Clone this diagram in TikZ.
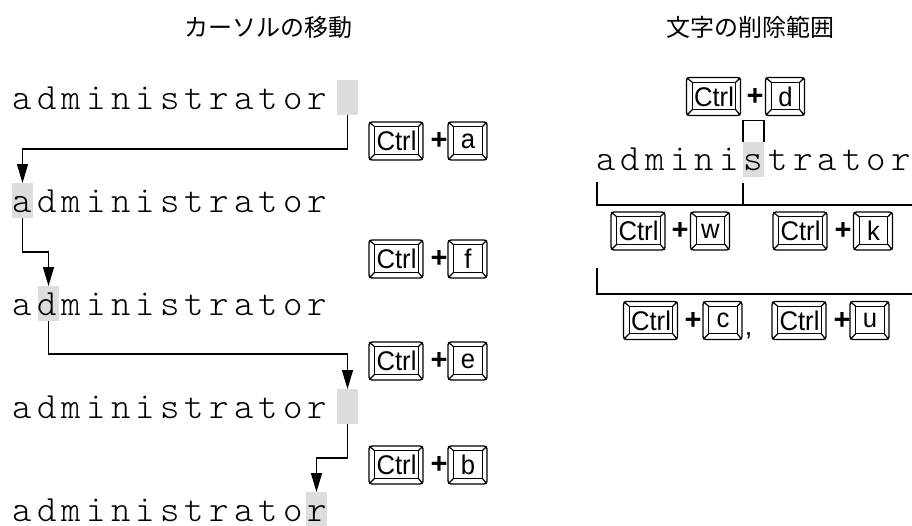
\documentclass[tikz,border=0pt]{standalone}
\usepackage{fontspec}
\newfontfamily\jpfont{Noto Sans CJK JP}
\newfontfamily\keyfont{Liberation Sans}
\newfontfamily\monofont{Latin Modern Mono Light}
\usetikzlibrary{arrows.meta}
\definecolor{hlgray}{HTML}{DDDDDD}
\newcommand\keycap[5]{%
  \node[#4] (#1) at (#2,#3) {};
  \draw[keyline] ([xshift=6.5pt,yshift=-5.5pt]#1.north west) rectangle ([xshift=-5.5pt,yshift=6.5pt]#1.south east);
  \draw[keyline] ([xshift=1pt,yshift=-1pt]#1.north west) -- ([xshift=6.5pt,yshift=-5.5pt]#1.north west);
  \draw[keyline] ([xshift=-1pt,yshift=-1pt]#1.north east) -- ([xshift=-5.5pt,yshift=-5.5pt]#1.north east);
  \draw[keyline] ([xshift=1pt,yshift=1pt]#1.south west) -- ([xshift=6.5pt,yshift=6.5pt]#1.south west);
  \draw[keyline] ([xshift=-1pt,yshift=1pt]#1.south east) -- ([xshift=-5.5pt,yshift=6.5pt]#1.south east);
  \node[keylabel] (#1l) at ([xshift=0.5pt]#1.center) {\scalebox{0.95}[1]{#5}};
}
\begin{document}
\begin{tikzpicture}[x=1pt,y=-1pt,
  cell/.style={fill=hlgray, draw=none, minimum width=21pt, minimum height=35pt, inner sep=0pt, outer sep=0pt},
  ch/.style={anchor=base, inner sep=0pt, font=\monofont\fontsize{37}{37}\selectfont},
  keyline/.style={line width=1.2pt},
  keyouter/.style={draw, rounded corners=3pt, minimum height=38pt, inner sep=0pt, line width=1.4pt},
  ctrlkey/.style={keyouter, minimum width=54pt},
  letkey/.style={keyouter, minimum width=39pt},
  keylabel/.style={font=\keyfont\fontsize{27}{27}\selectfont, inner sep=0pt},
  plus/.style={font=\keyfont\bfseries\fontsize{29}{29}\selectfont, inner sep=0pt},
  conn/.style={draw, line width=1.4pt, -{Triangle[width=11pt,length=19pt]}},
  brk/.style={draw, line width=1.3pt},
  title/.style={font=\jpfont\fontsize{24}{24}\selectfont, inner sep=0pt}
]
\useasboundingbox (0,0) rectangle (912,525);
% titles
\node[title] (t1) at (268,27) {カーソルの移動};
\node[title] (t2) at (750,27) {文字の削除範囲};
% highlight cells (left)
\node[cell] (c1) at (347.5,97.5) {};
\node[cell] (c2) at (22.5,200.5) {};
\node[cell] (c3) at (48.5,303.5) {};
\node[cell] (c4) at (347.5,406.5) {};
\node[cell] (c5) at (316.5,509.5) {};
% highlight cell (right)
\node[cell] (sc) at (753.5,159) {};
% texts
\foreach \b [count=\r] in {109,212,315,418,521}{
  \foreach \c [count=\i from 0] in {a,d,m,i,n,i,s,t,r,a,t,o,r}
    \node[ch] (l\r c\i) at (22.5+\i*24.6,\b) {\c};
}
\foreach \c [count=\i from 0] in {a,d,m,i,n,i,s,t,r,a,t,o,r}
  \node[ch] (rc\i) at (606+\i*24.6,170) {\c};
% connectors
\draw[conn] (c1.south) -- ++(0,34) -| (c2.north);
\draw[conn] (c2.south) -- ++(0,34) -| (c3.north);
\draw[conn] (c3.south) -- ++(0,33) -| (c4.north);
\draw[conn] (c4.south) -- ++(0,34) -| (c5.north);
% left keys
\keycap{ka1}{396}{141}{ctrlkey}{Ctrl}
\node[plus] (pa) at (439,141) {+};
\keycap{ka2}{467.5}{141}{letkey}{a}
\keycap{kf1}{396}{259}{ctrlkey}{Ctrl}
\node[plus] (pf) at (439,259) {+};
\keycap{kf2}{467.5}{259}{letkey}{f}
\keycap{ke1}{396}{361}{ctrlkey}{Ctrl}
\node[plus] (pe) at (439,361) {+};
\keycap{ke2}{467.5}{361}{letkey}{e}
\keycap{kb1}{396}{465}{ctrlkey}{Ctrl}
\node[plus] (pb) at (439,465) {+};
\keycap{kb2}{467.5}{465}{letkey}{b}
% right keys
\keycap{kd1}{713.5}{96.5}{ctrlkey}{Ctrl}
\node[plus] (pd) at (755,96.5) {+};
\keycap{kd2}{785}{96.5}{letkey}{d}
\keycap{kw1}{638}{231}{ctrlkey}{Ctrl}
\node[plus] (pw) at (680,231) {+};
\keycap{kw2}{710}{231}{letkey}{w}
\keycap{kk1}{800}{231}{ctrlkey}{Ctrl}
\node[plus] (pk) at (843,231) {+};
\keycap{kk2}{873}{231}{letkey}{k}
\keycap{kc1}{650.5}{320.5}{ctrlkey}{Ctrl}
\node[plus] (pc) at (693,320.5) {+};
\keycap{kc2}{722.5}{320.5}{letkey}{c}
\node[keylabel, anchor=base] (comma) at (748.5,335) {,};
\keycap{ku1}{799}{320.5}{ctrlkey}{Ctrl}
\node[plus] (pu) at (842,320.5) {+};
\keycap{ku2}{869.5}{320.5}{letkey}{u}
% bracket above s
\draw[brk] (sc.north west) -- ++(0,-21) -| (sc.north east);
% brackets below
\coordinate (b1a) at (597,182);
\coordinate (b1b) at (912,205);
\coordinate (b1t) at (743,183);
\coordinate (b1m) at (743,205);
\draw[brk] (b1a) |- (b1b);
\draw[brk] (b1t) -- (b1m);
\coordinate (b2a) at (597,268);
\coordinate (b2b) at (912,294);
\draw[brk] (b2a) |- (b2b);
\end{tikzpicture}
\end{document}
